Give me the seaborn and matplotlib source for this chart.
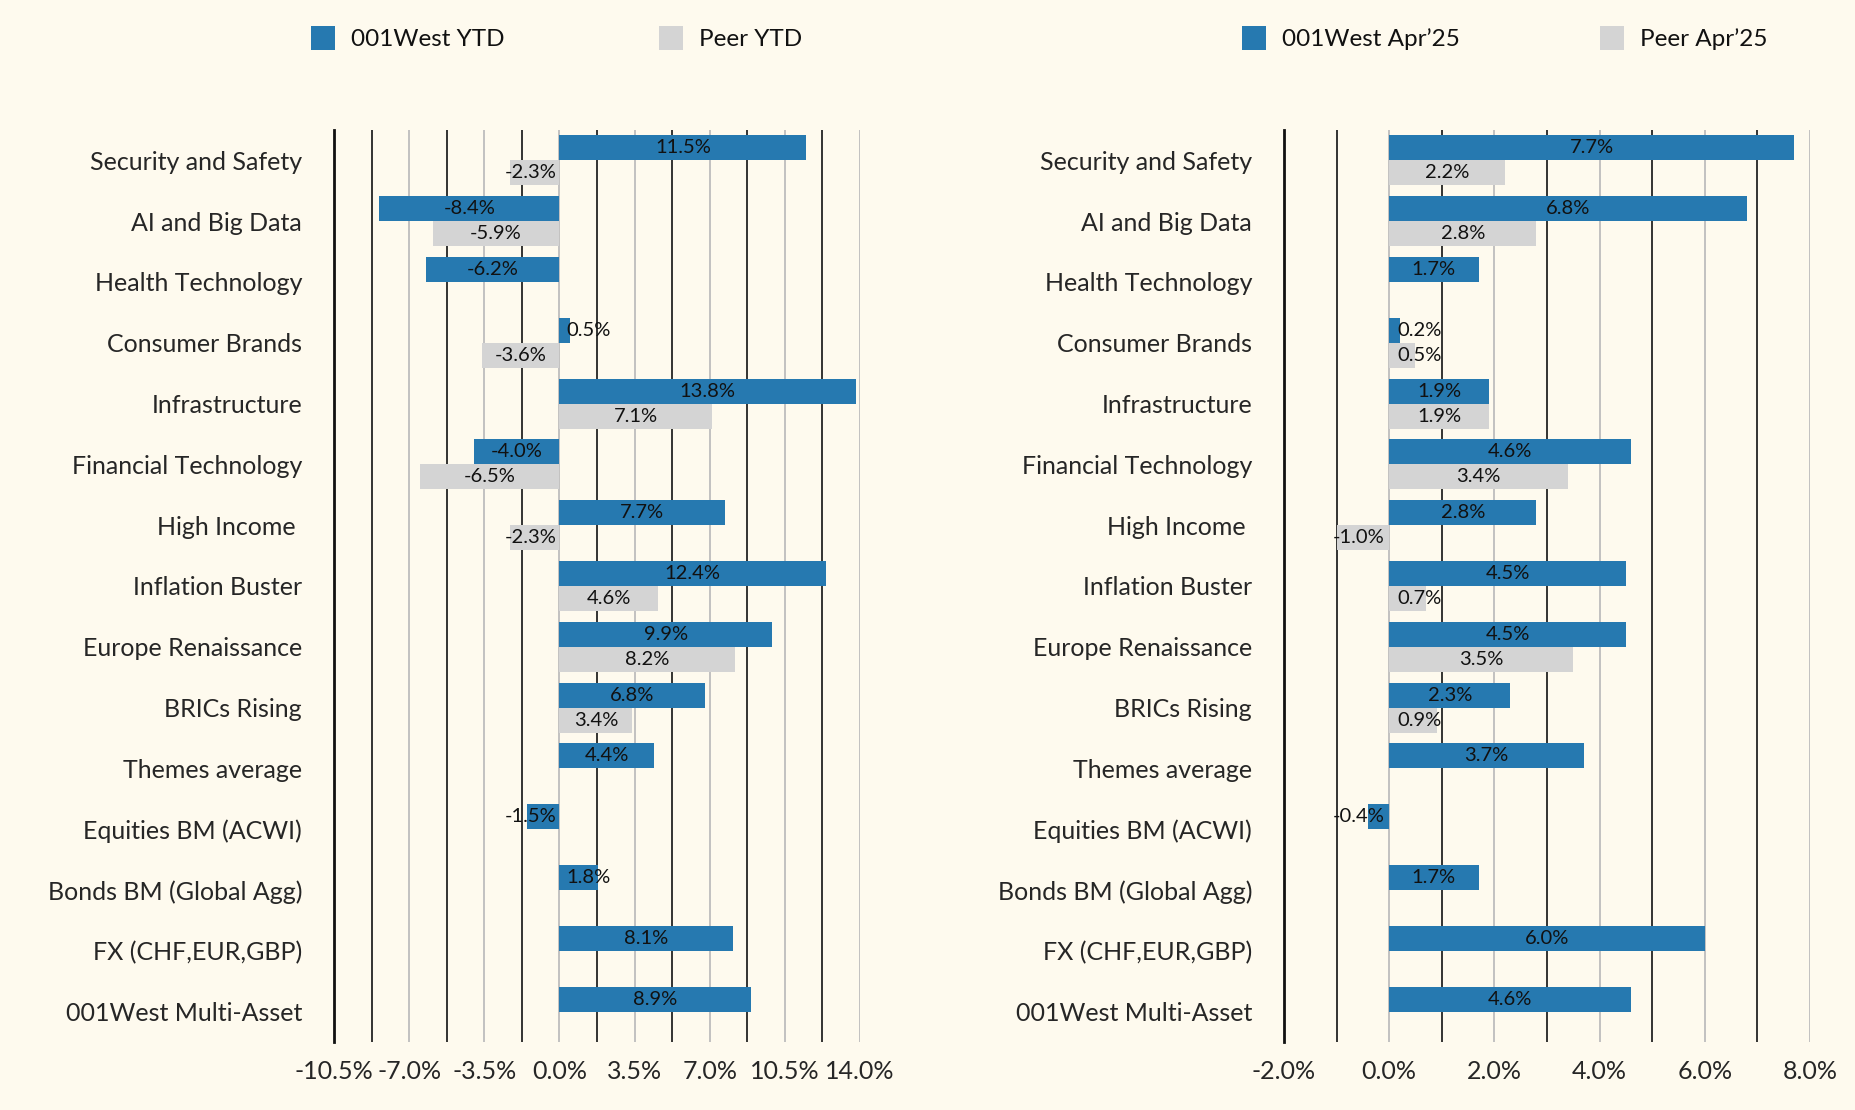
import numpy as np
import pandas as pd
import matplotlib
matplotlib.use("Agg")
import matplotlib.pyplot as plt
from matplotlib.patches import Patch
from matplotlib.ticker import MultipleLocator, FuncFormatter
import seaborn as sns

categories = ["Security and Safety", "AI and Big Data", "Health Technology", "Consumer Brands",
              "Infrastructure", "Financial Technology", "High Income ", "Inflation Buster",
              "Europe Renaissance", "BRICs Rising", "Themes average", "Equities BM (ACWI)",
              "Bonds BM (Global Agg)", "FX (CHF,EUR,GBP)", "001West Multi-Asset"]
nan = np.nan
west_ytd = [11.5, -8.4, -6.2, 0.5, 13.8, -4.0, 7.7, 12.4, 9.9, 6.8, 4.4, -1.5, 1.8, 8.1, 8.9]
peer_ytd = [-2.3, -5.9, nan, -3.6, 7.1, -6.5, -2.3, 4.6, 8.2, 3.4, nan, nan, nan, nan, nan]
west_apr = [7.7, 6.8, 1.7, 0.2, 1.9, 4.6, 2.8, 4.5, 4.5, 2.3, 3.7, -0.4, 1.7, 6.0, 4.6]
peer_apr = [2.2, 2.8, nan, 0.5, 1.9, 3.4, -1.0, 0.7, 3.5, 0.9, nan, nan, nan, nan, nan]

left_series = ["001West YTD", "Peer YTD"]
right_series = ["001West Apr\u201925", "Peer Apr\u201925"]
left_ticks = [-10.5, -7.0, -3.5, 0.0, 3.5, 7.0, 10.5, 14.0]
right_ticks = [-2.0, 0.0, 2.0, 4.0, 6.0, 8.0]

BG = "#FEFAEE"
BLUE = "#2679B0"
GREY = "#D4D4D4"
FONT = ["Lato", "DejaVu Sans"]

sns.set_theme(style="white")
plt.rcParams["font.family"] = FONT
plt.rcParams["text.color"] = "#111111"

fig = plt.figure(figsize=(18.56, 11.10), dpi=100, facecolor=BG)
axL = fig.add_axes([334 / 1856, 1 - 1042 / 1110, 526 / 1856, 912 / 1110])
axR = fig.add_axes([1284 / 1856, 1 - 1042 / 1110, 526 / 1856, 912 / 1110])


def long_df(a, b, names):
    df = pd.DataFrame({"category": categories * 2,
                       "value": list(a) + list(b),
                       "series": [names[0]] * len(categories) + [names[1]] * len(categories)})
    return df.dropna()


def draw(ax, a, b, names, ticks, minor, minlab):
    df = long_df(a, b, names)
    sns.barplot(data=df, y="category", x="value", hue="series", orient="h",
                order=categories, hue_order=names, palette=[BLUE, GREY],
                saturation=1, width=0.82, errorbar=None, legend=False, ax=ax,
                linewidth=0)
    ax.set_facecolor(BG)
    ax.set_xlim(ticks[0], ticks[-1])
    ax.set_ylim(len(categories) - 0.5, -0.5)
    ax.xaxis.set_major_locator(matplotlib.ticker.FixedLocator(ticks))
    ax.xaxis.set_minor_locator(MultipleLocator(minor))
    ax.xaxis.set_major_formatter(FuncFormatter(lambda v, p: f"{v:.1f}%"))
    ax.set_axisbelow(True)
    ax.grid(True, axis="x", which="major", color="#BDBDBD", linewidth=1.3)
    ax.grid(True, axis="x", which="minor", color="#111111", linewidth=1.2)
    ax.grid(False, axis="y")
    for s in ["top", "right", "bottom"]:
        ax.spines[s].set_visible(False)
    ax.spines["left"].set_color("#111111")
    ax.spines["left"].set_linewidth(2.0)
    ax.tick_params(axis="x", which="both", length=0, pad=13, labelsize=18)
    ax.tick_params(axis="y", length=0, pad=23, labelsize=18)
    ax.set_xlabel("")
    ax.set_ylabel("")
    for cont in ax.containers:
        for p in cont.patches:
            w = p.get_width()
            if np.isnan(w):
                continue
            xc = np.sign(w) * max(abs(w) / 2, minlab)
            yc = p.get_y() + p.get_height() / 2
            ax.text(xc, yc, f"{w:.1f}%", ha="center", va="center", fontsize=14.5,
                    color="#111111", family=FONT)


draw(axL, west_ytd, peer_ytd, left_series, left_ticks, 1.75, 1.35)
draw(axR, west_apr, peer_apr, right_series, right_ticks, 1.0, 0.58)

for xpix, label, col in [(311, left_series[0], BLUE), (659, left_series[1], GREY),
                         (1242, right_series[0], BLUE), (1600, right_series[1], GREY)]:
    fig.legend(handles=[Patch(facecolor=col, edgecolor="none", label=label)],
               loc="center left", bbox_to_anchor=(xpix / 1856, 1 - 38 / 1110),
               frameon=False, fontsize=17.5, handlelength=0.99, handleheight=1.14,
               handletextpad=0.66, borderpad=0, borderaxespad=0)

fig.savefig("out.png", dpi=100, facecolor=BG)
